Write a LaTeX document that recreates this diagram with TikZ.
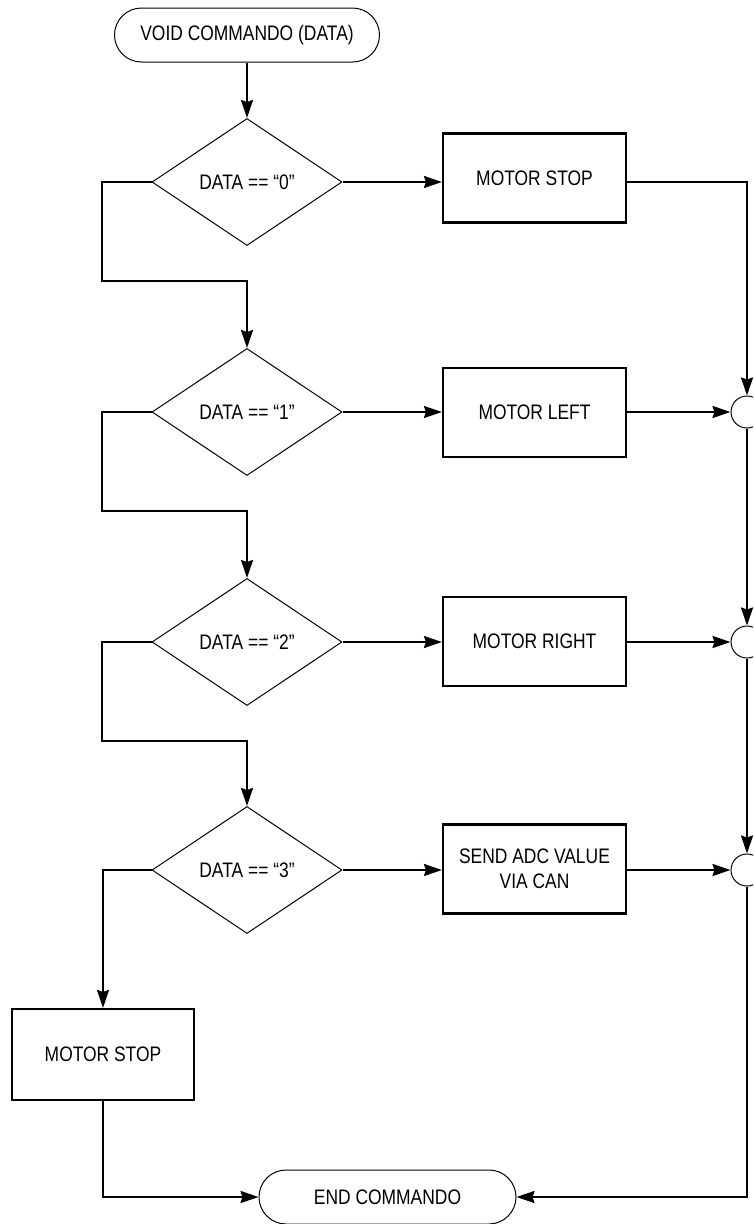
\documentclass[tikz,border=0pt]{standalone}
\usepackage{fontspec}
\setmainfont[FakeStretch=0.83]{Liberation Sans}
\usetikzlibrary{shapes.geometric,shapes.misc,arrows.meta}
\begin{document}
\begin{tikzpicture}[x=1pt,y=-1pt,
  every node/.style={font=\fontsize{21}{25}\selectfont, inner sep=0pt},
  term/.style={rounded rectangle, draw, line width=1pt, minimum width=#1, minimum height=54pt},
  decide/.style={diamond, draw, line width=1pt, minimum width=190pt, minimum height=127pt},
  proc/.style={rectangle, draw, line width=2.1pt, minimum width=183pt, minimum height=89pt, align=center},
  joint/.style={circle, draw, line width=1pt, minimum size=32pt},
  flow/.style={line width=2.1pt},
  arr/.style={flow, -{Stealth[length=18pt,width=12pt,inset=2pt]}}
]
\useasboundingbox (0,0) rectangle (753,1224);
\clip (0,0) rectangle (753,1224);

\node[term=265pt] (start) at (247,35) {VOID COMMANDO (DATA)};
\node[decide] (d0) at (247,182) {DATA == “0”};
\node[decide] (d1) at (247,412) {DATA == “1”};
\node[decide] (d2) at (247,642) {DATA == “2”};
\node[decide] (d3) at (247,870) {DATA == “3”};

\node[proc] (b0) at (534.5,178) {MOTOR STOP};
\node[proc] (b1) at (534.5,412.5) {MOTOR LEFT};
\node[proc] (b2) at (534.5,641.5) {MOTOR RIGHT};
\node[proc] (b3) at (534.5,869) {SEND ADC VALUE\\VIA CAN};
\node[proc, minimum width=182pt, minimum height=91pt] (b4) at (103,1054.5) {MOTOR STOP};

\node[joint] (c1) at (747,412) {};
\node[joint] (c2) at (747,642) {};
\node[joint] (c3) at (747,870) {};

\node[term=257pt] (end) at (387.5,1197) {END COMMANDO};

\coordinate (k0) at (102,281);
\coordinate (k1) at (102,511);
\coordinate (k2) at (102,741);

\draw[arr] (start.south) -- (d0.north);
\draw[arr] (d0.east) -- (d0.east -| b0.west);
\draw[arr] (d1.east) -- (d1.east -| b1.west);
\draw[arr] (d2.east) -- (d2.east -| b2.west);
\draw[arr] (d3.east) -- (d3.east -| b3.west);

\draw[arr] (b0.east |- d0.east) -| (c1.north);
\draw[arr] (b1.east |- c1.west) -- (c1.west);
\draw[arr] (b2.east |- c2.west) -- (c2.west);
\draw[arr] (b3.east |- c3.west) -- (c3.west);
\draw[arr] (c1.south) -- (c2.north);
\draw[arr] (c2.south) -- (c3.north);

\draw[arr] (d0.west) -| (k0) -| (d1.north);
\draw[arr] (d1.west) -| (k1) -| (d2.north);
\draw[arr] (d2.west) -| (k2) -| (d3.north);
\draw[arr] (d3.west) -| (b4.north);

\draw[arr] (b4.south) |- (end.west);
\draw[arr] (c3.south) |- (end.east);
\end{tikzpicture}
\end{document}
